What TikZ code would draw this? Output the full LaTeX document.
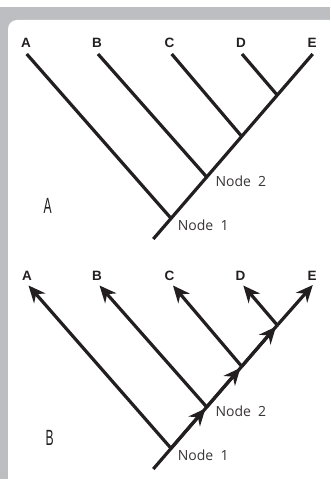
\documentclass[tikz,border=0pt]{standalone}
\usepackage{fontspec}
\setmainfont{Liberation Sans}
\newfontfamily\nodefont{Open Sans}
\usetikzlibrary{arrows.meta}
\definecolor{framegray}{RGB}{189,190,193}
\definecolor{ink}{RGB}{35,31,32}

\begin{document}
\begin{tikzpicture}[x=1pt,y=-1pt,
  branch/.style={line width=3.2pt, draw=ink},
  arrowbranch/.style={branch, -{Stealth[length=17pt,width=15pt,inset=5.5pt]}},
  midarrow/.style={arrowbranch, shorten >=2pt},
  tiplabel/.style={font=\fontsize{13.5}{13.5}\selectfont\bfseries, inner sep=0pt, text=ink},
  nodelabel/.style={font=\nodefont\fontsize{14}{14}\selectfont, anchor=base west, inner sep=0pt, text=ink!90},
  panellabel/.style={inner sep=0pt, text=ink}]

\useasboundingbox (0,0) rectangle (330,481);
\clip (0,0) rectangle (330,481);

% frame: grey band with a white rounded panel inside
\fill[framegray] (0,7) rectangle (330,479);
\fill[white, rounded corners=9pt] (8,20) rectangle (345,500);

% ---------- tree A: plain branches ----------
\coordinate (rootA) at (153.3,239);
\coordinate (n1A) at (171,218.3);
\coordinate (n2A) at (206.7,177);
\coordinate (ncA) at (241.7,136.4);
\coordinate (ndA) at (277.3,95.2);
\coordinate (tAa) at (26.7,54);
\coordinate (tAb) at (98,54);
\coordinate (tAc) at (171.7,54);
\coordinate (tAd) at (242,54);
\coordinate (tAe) at (312.7,54);

\draw[branch] (rootA) -- (tAe);
\draw[branch] (n1A) -- (tAa);
\draw[branch] (n2A) -- (tAb);
\draw[branch] (ncA) -- (tAc);
\draw[branch] (ndA) -- (tAd);

\node[tiplabel] (lAa) at (26,43) {A};
\node[tiplabel] (lAb) at (97,43) {B};
\node[tiplabel] (lAc) at (169.5,43) {C};
\node[tiplabel] (lAd) at (241,43) {D};
\node[tiplabel] (lAe) at (312,43) {E};

\node[nodelabel] (nl1A) at (177.7,230) {Node\ \ 1};
\node[nodelabel] (nl2A) at (215.3,186) {Node\ \ 2};

\node[panellabel] (panA) at (47.7,205.8)
  {\scalebox{0.55}[1]{\fontsize{22}{22}\selectfont A}};

% ---------- tree B: directed branches ----------
\coordinate (rootB) at (153.3,469);
\coordinate (n1B) at (171,448.3);
\coordinate (n2B) at (206.7,407);
\coordinate (ncB) at (241.7,366.4);
\coordinate (ndB) at (277.3,325.2);
\coordinate (tBa) at (28.5,285.5);
\coordinate (tBb) at (99.5,285.5);
\coordinate (tBc) at (173,285.5);
\coordinate (tBd) at (243.3,285.5);
\coordinate (tBe) at (312.8,285);

\draw[branch] (rootB) -- (ndB);
\draw[midarrow] (n1B) -- (n2B);
\draw[midarrow] (n2B) -- (ncB);
\draw[midarrow] (ncB) -- (ndB);
\draw[arrowbranch] (ndB) -- (tBe);
\draw[arrowbranch] (n1B) -- (tBa);
\draw[arrowbranch] (n2B) -- (tBb);
\draw[arrowbranch] (ncB) -- (tBc);
\draw[arrowbranch] (ndB) -- (tBd);

\node[tiplabel] (lBa) at (27,275.5) {A};
\node[tiplabel] (lBb) at (97,275.5) {B};
\node[tiplabel] (lBc) at (169.5,275.5) {C};
\node[tiplabel] (lBd) at (240.5,275.5) {D};
\node[tiplabel] (lBe) at (312,275.5) {E};

\node[nodelabel] (nl1B) at (177.7,460) {Node\ \ 1};
\node[nodelabel] (nl2B) at (215.3,416) {Node\ \ 2};

\node[panellabel] (panB) at (49.7,437.5)
  {\scalebox{0.55}[1]{\fontsize{22}{22}\selectfont B}};
\end{tikzpicture}
\end{document}
